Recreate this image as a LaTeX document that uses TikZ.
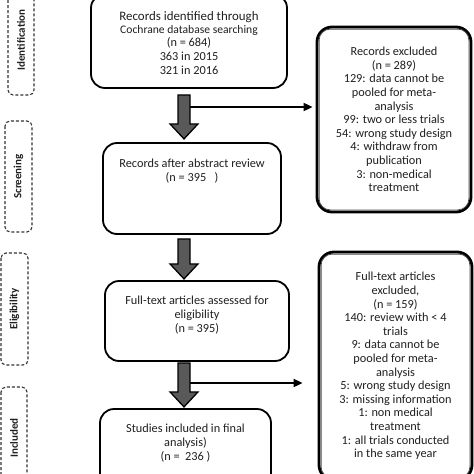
\documentclass[tikz,border=0pt]{standalone}
\usepackage{fontspec}
\setmainfont{Carlito}
\usetikzlibrary{calc,arrows.meta}
\begin{document}
\begin{tikzpicture}[x=1pt,y=-1pt,
 box/.style={draw=black, line width=1.8pt, rounded corners=14pt, inner sep=0pt},
 dbox/.style={draw=black, line width=2.8pt, rounded corners=15pt, inner sep=0pt, align=center, font=\fontsize{12.3}{13.6}\selectfont, text=black!88},
 txt/.style={align=center, font=\fontsize{12.3}{13.7}\selectfont, text=black!88, inner sep=0pt},
 side/.style={draw=black!80, dash pattern=on 3pt off 2pt, line width=1.1pt, rounded corners=5pt, rotate=90, inner sep=0pt, font=\bfseries\fontsize{11}{13}\selectfont, text=black!88},
 blkstyle/.style={draw=black, line width=1.3pt, fill=black!65, line join=miter},
 conn/.style={line width=1.8pt, -{Triangle[length=9pt,width=8pt]}},
 inner/.style={draw=black!70, line width=0.8pt, rounded corners=11pt}
]
\useasboundingbox (0,0) rectangle (474,474);
\clip (0,0) rectangle (474,474);

% side labels
\node[side, minimum width=110, minimum height=26] (sid) at (21,40) {Identification};
\node[side, minimum width=111, minimum height=27] (sscr) at (18.5,176.5) {Screening};
\node[side, minimum width=112, minimum height=27] (selig) at (14.5,309) {Eligibility};
\node[side, minimum width=102, minimum height=26] (sinc) at (14,438) {Included};

% main boxes
\node[box, minimum width=196, minimum height=94] (b1) at (189,41) {};
\node[txt] (t1) at (189,43)
 {{\fontsize{12.9}{13.7}\selectfont Records identified through}\\[-1pt]
  {\fontsize{11.6}{13.6}\selectfont Cochrane database searching}\\
  (n = 684)\\ 363 in 2015\\ 321 in 2016};

\node[box, minimum width=178, minimum height=91] (b3) at (192,188.5) {};
\node[txt] (t3) at (192,171) {Records after abstract review\\ (n = 395\ \ \ )};

\node[box, minimum width=184, minimum height=80] (b4) at (197,321) {};
\node[txt] (t4) at (197,315) {Full-text articles assessed for\\ eligibility\\ (n = 395)};

\node[box, minimum width=171, minimum height=92] (b6) at (185.5,455) {};
\node[txt] (t6) at (185.5,443) {Studies included in final\\ analysis)\\ (n = \ 236 )};

% exclusion boxes
\node[dbox, minimum width=154, minimum height=185] (b2) at (394,119.5)
 {Records excluded\\ (n = 289)\\ 129: data cannot be\\ pooled for meta-\\ analysis\\
  99: two or less trials\\ 54: wrong study design\\ 4: withdraw from\\ publication\\
  3: non-medical\\ treatment};
\draw[inner] ($(b2.north west)+(3.5,3.5)$) rectangle ($(b2.south east)+(-3.5,-3.5)$);

\node[dbox, minimum width=153, minimum height=228] (b5) at (395.5,366)
 {Full-text articles\\ excluded,\\ (n = 159)\\ 140: review with < 4\\ trials\\
  9: data cannot be\\ pooled for meta-\\ analysis\\ 5: wrong study design\\
  3: missing information\\ 1: non medical\\ treatment\\ 1: all trials conducted\\ in the same year};
\draw[inner] ($(b5.north west)+(3.5,3.5)$) rectangle ($(b5.south east)+(-3.5,-3.5)$);

% block arrows
\coordinate (ax) at (184,0);
\newcommand\blkarrow[2]{\draw[blkstyle] #1 ++(-6,0) -- ++(12,0) -- ++(0,#2) -- ++(8,0) -- ++(-14,15) -- ++(-14,-15) -- ++(8,0) -- cycle;}
\blkarrow{($(b1.south -| ax)+(0,6)$)}{29}
\blkarrow{($(b3.south -| ax)+(0,4)$)}{25}
\blkarrow{($(b4.south -| ax)+(0,1)$)}{29}

% side connectors
\coordinate (h1) at (190,107);
\coordinate (h2) at (190,383);
\draw[conn, shorten >=3pt] (h1) -- (h1 -| b2.west);
\draw[conn, shorten >=15pt] (h2) -- (h2 -| b5.west);
\end{tikzpicture}
\end{document}
